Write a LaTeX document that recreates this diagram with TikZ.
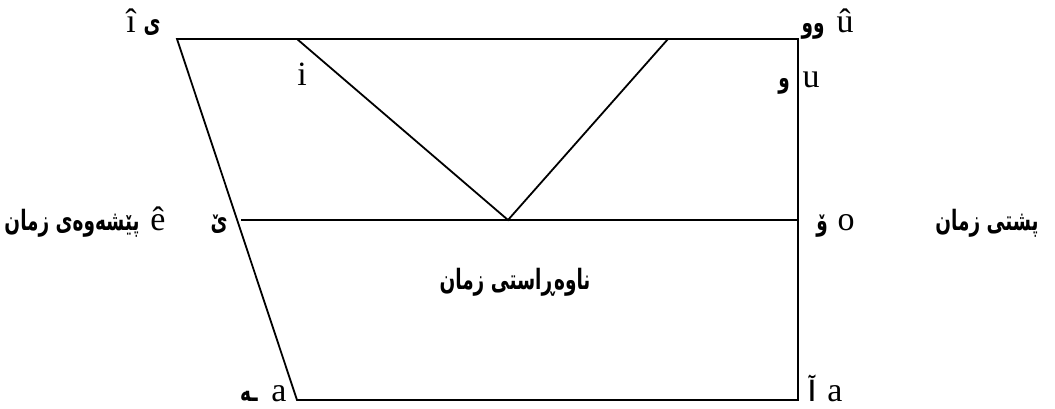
\documentclass[tikz,border=0pt]{standalone}
\usepackage{fontspec}
\setmainfont{Liberation Serif}
\newfontfamily\kurdfont[Script=Arabic]{DejaVu Sans}
\TeXXeTstate=1
\usetikzlibrary{positioning}
\newcommand{\kd}[1]{\scalebox{0.66}[1]{\beginR #1\endR}}

\begin{document}
\begin{tikzpicture}[
    x=0.5pt, y=-0.5pt,
    edge/.style={
        line width=0.9pt
    },
    lat/.style={
        inner sep=0pt,
        anchor=base,
        font=\fontsize{17}{17}\selectfont
    },
    kur/.style={
        inner sep=0pt,
        anchor=base,
        font=\kurdfont\bfseries\fontsize{14}{14}\selectfont
    }
]
\useasboundingbox (0,0) rectangle (1055,408);

% Esquinas del trapecio
\coordinate (tl) at (177,39);
\coordinate (tr) at (798,39);
\coordinate (br) at (798,400);
\coordinate (bl) at (297,400);
\coordinate (ml) at (241,220);
\coordinate (mr) at (798,220);
\coordinate (vl) at (297,39);
\coordinate (vm) at (508,220);
\coordinate (vr) at (668,39);

% Lineas
\draw[edge] (tl) -- (tr) -- (br) -- (bl) -- cycle;
\draw[edge] (ml) -- (mr);
\draw[edge] (vl) -- (vm) -- (vr);

% Vocales cerradas
\node[lat] (ihat) at (131,32) {î};
\node[kur] (yeh) at (152,32) {\kd{ی}};
\node[lat] (i) at (302,85) {i};
\node[kur] (waw2) at (813,32) {\kd{وو}};
\node[lat] (uhat) at (845,32) {û};
\node[kur] (waw) at (784,87) {\kd{و}};
\node[lat] (u) at (811,87) {u};

% Vocales medias
\node[kur] (front) at (72,230) {\kd{پێشەوەی زمان}};
\node[lat] (ehat) at (158,230) {ê};
\node[kur] (yehv) at (219,230) {\kd{ێ}};
\node[kur] (wawv) at (822,230) {\kd{ۆ}};
\node[lat] (o) at (846,230) {o};
\node[kur] (back) at (987,230) {\kd{پشتی زمان}};
\node[kur] (central) at (515,289) {\kd{ناوەڕاستی زمان}};

% Vocales abiertas
\node[kur] (heh) at (249,401) {\kd{ـە}};
\node[lat] (afront) at (279,401) {a};
\node[kur] (alef) at (812,401) {\kd{آ}};
\node[lat] (aback) at (835,401) {a};

\end{tikzpicture}
\end{document}
